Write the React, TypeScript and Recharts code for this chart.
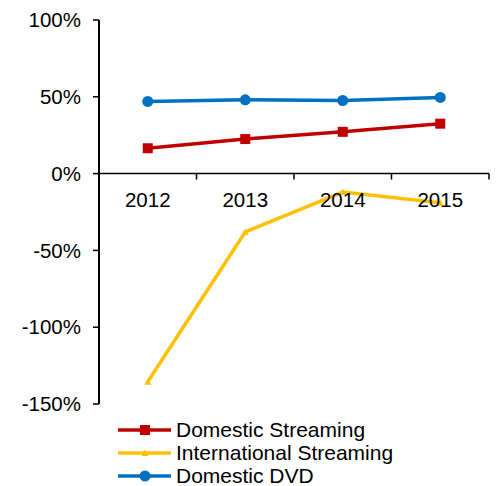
import React from "react";
import { LineChart, Line, XAxis, YAxis, ReferenceLine } from "recharts";

const years = ["2012", "2013", "2014", "2015"];
const domesticStreaming = [16.5, 22.5, 27.2, 32.5];
const internationalStreaming = [-135.5, -38, -12, -19];
const domesticDvd = [47, 48, 47.6, 49.6];
const yTicks = [-150, -100, -50, 0, 50, 100];

const data = years.map((year, i) => ({
  year,
  ds: domesticStreaming[i],
  is: internationalStreaming[i],
  dvd: domesticDvd[i],
}));

const W = 494;
const H = 478;
const X_AXIS_H = 30;
const M = { top: 12, right: 13, left: 0, bottom: 82 - X_AXIS_H };
const Y_AXIS_W = 91;
const PLOT_W = W - M.right - Y_AXIS_W;
const PLOT_H = H - M.top - 82;
const ZERO_Y = M.top + (100 / 250) * PLOT_H;
const BAND = PLOT_W / years.length;
const FONT = "'Liberation Sans', Arial, sans-serif";

const RED = "#C00000";
const GOLD = "#FFC000";
const BLUE = "#0070C0";

function YearTick(props: any) {
  const { x, payload } = props;
  return (
    <g>
      <line x1={x + BAND / 2} x2={x + BAND / 2} y1={ZERO_Y} y2={ZERO_Y + 6} stroke="#000" strokeWidth={1.5} />
      <text x={x} y={ZERO_Y + 33} textAnchor="middle" fontSize={20.5} fontFamily={FONT} fill="#000">
        {payload.value}
      </text>
    </g>
  );
}

function SquareDot(props: any) {
  const { cx, cy } = props;
  return <rect x={cx - 5} y={cy - 5} width={10} height={10} fill={RED} />;
}

function TriangleDot(props: any) {
  const { cx, cy } = props;
  return <path d={`M${cx - 3.5},${cy + 3} L${cx + 3.5},${cy + 3} L${cx},${cy - 3.5} Z`} fill={GOLD} />;
}

function CircleDot(props: any) {
  const { cx, cy } = props;
  return <circle cx={cx} cy={cy} r={5.5} fill={BLUE} />;
}

const legendItems = [
  { label: "Domestic Streaming", color: RED, marker: "square" },
  { label: "International Streaming", color: GOLD, marker: "triangle" },
  { label: "Domestic DVD", color: BLUE, marker: "circle" },
];

function LegendBox() {
  return (
    <div style={{ position: "absolute", left: 109, top: 410, fontFamily: FONT, fontSize: 21, lineHeight: "18px" }}>
      {legendItems.map((it) => (
        <div key={it.label} style={{ display: "flex", alignItems: "center", height: 23.3 }}>
          <svg width={56} height={14} style={{ marginRight: 3 }}>
            <line x1={1} x2={54} y1={7} y2={7} stroke={it.color} strokeWidth={3.5} />
            {it.marker === "square" && <rect x={23} y={2} width={10} height={10} fill={it.color} />}
            {it.marker === "triangle" && <path d="M24.5,10 L31.5,10 L28,3.5 Z" fill={it.color} />}
            {it.marker === "circle" && <circle cx={28} cy={7} r={5.5} fill={it.color} />}
          </svg>
          <span style={{ color: "#000" }}>{it.label}</span>
        </div>
      ))}
    </div>
  );
}

export default function App() {
  return (
    <div style={{ position: "relative", width: W, height: H }}>
      <LineChart width={W} height={H} data={data} margin={M}>
        <XAxis
          dataKey="year"
          scale="band"
          height={X_AXIS_H}
          axisLine={false}
          tickLine={false}
          tick={<YearTick />}
          interval={0}
        />
        <YAxis
          width={Y_AXIS_W}
          domain={[-150, 100]}
          ticks={yTicks}
          interval={0}
          tickFormatter={(v: number) => `${v}%`}
          axisLine={{ stroke: "#000", strokeWidth: 2 }}
          tickLine={{ stroke: "#000", strokeWidth: 1.5 }}
          tickSize={6}
          tickMargin={12}
          tick={{ fill: "#000", fontSize: 20.5, fontFamily: FONT }}
        />
        <ReferenceLine y={0} stroke="#000" strokeWidth={1.5} />
        <Line dataKey="ds" stroke={RED} strokeWidth={3.5} dot={<SquareDot />} isAnimationActive={false} />
        <Line dataKey="is" stroke={GOLD} strokeWidth={3.5} dot={<TriangleDot />} isAnimationActive={false} />
        <Line dataKey="dvd" stroke={BLUE} strokeWidth={3.5} dot={<CircleDot />} isAnimationActive={false} />
      </LineChart>
      <LegendBox />
    </div>
  );
}
